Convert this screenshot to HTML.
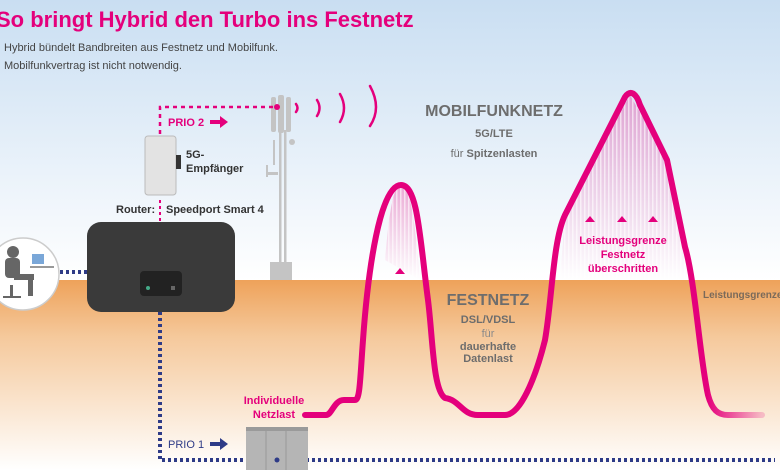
<!DOCTYPE html>
<html><head><meta charset="utf-8"><style>
html,body{margin:0;padding:0}
body{width:780px;height:470px;overflow:hidden;font-family:"Liberation Sans",sans-serif;}
</style></head><body>
<svg width="780" height="470" xmlns="http://www.w3.org/2000/svg" font-family="Liberation Sans, sans-serif">
<defs>
<linearGradient id="sky" x1="0" y1="0" x2="0" y2="1">
<stop offset="0" stop-color="#c9def2"/><stop offset="1" stop-color="#ffffff"/></linearGradient>
<linearGradient id="gnd" x1="0" y1="0" x2="0" y2="1">
<stop offset="0" stop-color="#eea25a"/><stop offset="0.3" stop-color="#f5c99c"/><stop offset="1" stop-color="#ffffff"/></linearGradient>
<linearGradient id="fill" x1="0" y1="0" x2="0" y2="1">
<stop offset="0" stop-color="#e8007e" stop-opacity="0.3"/><stop offset="1" stop-color="#e8007e" stop-opacity="0"/></linearGradient>
<pattern id="str" width="4" height="4" patternUnits="userSpaceOnUse"><rect width="1.5" height="4" fill="#fff" fill-opacity="0.6"/></pattern>
<linearGradient id="fade" x1="0" y1="0" x2="1" y2="0">
<stop offset="0" stop-color="#e4007c"/><stop offset="0.88" stop-color="#e4007c"/><stop offset="1" stop-color="#e4007c" stop-opacity="0.2"/></linearGradient>
</defs>
<rect x="0" y="0" width="780" height="281" fill="url(#sky)"/>
<rect x="0" y="280" width="780" height="190" fill="url(#gnd)"/>

<text x="-4" y="27" font-size="22" font-weight="bold" fill="#e4007c">So bringt Hybrid den Turbo ins Festnetz</text>
<text x="4" y="51" font-size="11" fill="#444">Hybrid bündelt Bandbreiten aus Festnetz und Mobilfunk.</text>
<text x="4" y="69" font-size="11" fill="#444">Mobilfunkvertrag ist nicht notwendig.</text>

<path d="M385,260 C390,200 395,185 401,185 C410,185 415,220 420,280 Z" fill="url(#fill)"/>
<path d="M560,280 L565,215 L630,95 L650,130 L667,155 L685,247 L690,280 Z" fill="url(#fill)"/>
<path d="M385,260 C390,200 395,185 401,185 C410,185 415,220 420,280 Z" fill="url(#str)"/>
<path d="M560,280 L565,215 L630,95 L650,130 L667,155 L685,247 L690,280 Z" fill="url(#str)"/>

<!-- tower -->
<g fill="#c4c4c4">
<rect x="270" y="262" width="22" height="18"/>
<rect x="279" y="130" width="2.5" height="135"/><rect x="284" y="130" width="2.5" height="135"/>
<rect x="271" y="97" width="5" height="35" rx="2"/><rect x="278" y="95" width="6" height="38" rx="2"/><rect x="286" y="97" width="5" height="35" rx="2"/>
<rect x="273" y="140" width="2" height="25"/><circle cx="292" cy="142" r="3"/>
<rect x="266" y="165" width="2" height="12"/><rect x="266" y="172" width="12" height="3"/>
</g>
<g stroke="#e4007c" stroke-width="2.5" fill="none" stroke-linecap="round">
<path d="M296,104 Q299,108 296,112"/><path d="M317,100 Q322,108 317,116"/>
<path d="M340,94 Q348,108 340,122"/><path d="M370,86 Q382,108 370,126"/>
</g>
<path d="M160,150 L160,107 L278,107" stroke="#e4007c" stroke-width="2.5" stroke-dasharray="4,4" fill="none"/>
<path d="M160,200 L160,222" stroke="#e4007c" stroke-width="2" stroke-dasharray="3,3" fill="none"/>
<circle cx="277" cy="107" r="3" fill="#e4007c"/>
<text x="168" y="126" font-size="11" font-weight="bold" fill="#e4007c">PRIO 2</text>
<path d="M210,120 h10 v-4 l8,6 l-8,6 v-4 h-10z" fill="#e4007c"/>

<rect x="145" y="136" width="31" height="59" rx="3" fill="#e3e3e3" stroke="#bbb"/>
<rect x="176" y="155" width="5" height="14" fill="#333"/>
<text x="186" y="158" font-size="11" font-weight="bold" fill="#333">5G-</text>
<text x="186" y="172" font-size="11" font-weight="bold" fill="#333">Empfänger</text>
<text x="116" y="213" font-size="11" font-weight="bold" fill="#333">Router:</text>
<text x="166" y="213" font-size="11" font-weight="bold" fill="#333">Speedport Smart 4</text>

<g stroke="#2e3b87" stroke-width="4" stroke-dasharray="3,3" fill="none">
<path d="M60,272 L87,272"/>
<path d="M160,312 L160,460 L775,460"/>
</g>
<text x="168" y="448" font-size="11" fill="#2e3b87">PRIO 1</text>
<path d="M210,442 h10 v-4 l8,6 l-8,6 v-4 h-10z" fill="#2e3b87"/>

<rect x="87" y="222" width="148" height="90" rx="14" fill="#3a3a3a"/>
<rect x="140" y="271" width="42" height="25" rx="4" fill="#222"/>
<circle cx="148" cy="288" r="2" fill="#4a8"/><rect x="171" y="286" width="4" height="4" fill="#666"/>

<circle cx="23" cy="274" r="36" fill="#fff" stroke="#ccc" stroke-width="1.5"/>
<g fill="#666"><circle cx="13" cy="252" r="6"/><rect x="5" y="258" width="15" height="20" rx="4"/>
<rect x="14" y="274" width="20" height="6"/><rect x="28" y="274" width="5" height="22"/>
<rect x="10" y="285" width="3" height="12"/><rect x="3" y="296" width="18" height="2"/></g>
<rect x="32" y="254" width="12" height="10" fill="#7aa7d8"/><rect x="30" y="266" width="24" height="2" fill="#999"/>

<rect x="246" y="427" width="62" height="43" fill="#b5b5b5"/>
<rect x="246" y="427" width="62" height="4" fill="#9a9a9a"/>
<line x1="266" y1="431" x2="266" y2="470" stroke="#999"/><line x1="286" y1="431" x2="286" y2="470" stroke="#999"/>
<circle cx="277" cy="460" r="2.5" fill="#2e3b87"/>

<path d="M305,415 L326,415 C332,415 334,400 344,400 L355,400 C360,400 360,380 363,340 C368,270 380,185 401,185 C418,185 420,240 428,300 C433,340 433,390 445,398 C460,400 462,415 478,415 L505,415 C520,415 535,380 545,340 C552,300 553,240 565,215 L625,97 C630,90 636,92 640,105 L667,160 L685,247 C695,280 700,360 708,395 C712,410 718,415 728,415 L762,415" fill="none" stroke="url(#fade)" stroke-width="6" stroke-linejoin="round" stroke-linecap="round"/>

<g fill="#e4007c"><path d="M395,274 l5,-6 l5,6z"/><path d="M585,222 l5,-6 l5,6z"/><path d="M617,222 l5,-6 l5,6z"/><path d="M648,222 l5,-6 l5,6z"/></g>

<g font-weight="bold" text-anchor="middle">
<text x="494" y="116" font-size="16" fill="#6d6d6d">MOBILFUNKNETZ</text>
<text x="494" y="137" font-size="11" fill="#6d6d6d">5G/LTE</text>
<text x="494" y="157" font-size="11" fill="#6d6d6d"><tspan font-weight="normal">für </tspan>Spitzenlasten</text>
<text x="488" y="305" font-size="16" fill="#6d6d6d">FESTNETZ</text>
<text x="488" y="323" font-size="11" fill="#6d6d6d">DSL/VDSL</text>
<text x="488" y="337" font-size="11" font-weight="normal" fill="#8a8a8a">für</text>
<text x="488" y="350" font-size="11" fill="#6d6d6d">dauerhafte</text>
<text x="488" y="362" font-size="11" fill="#6d6d6d">Datenlast</text>
<text x="623" y="244" font-size="11" fill="#e4007c">Leistungsgrenze</text>
<text x="623" y="258" font-size="11" fill="#e4007c">Festnetz</text>
<text x="623" y="272" font-size="11" fill="#e4007c">überschritten</text>
<text x="274" y="404" font-size="11" fill="#e4007c">Individuelle</text>
<text x="274" y="418" font-size="11" fill="#e4007c">Netzlast</text>
</g>
<text x="703" y="298" font-size="10" font-weight="bold" fill="#7a6a5a">Leistungsgrenze</text>
</svg>
</body></html>
